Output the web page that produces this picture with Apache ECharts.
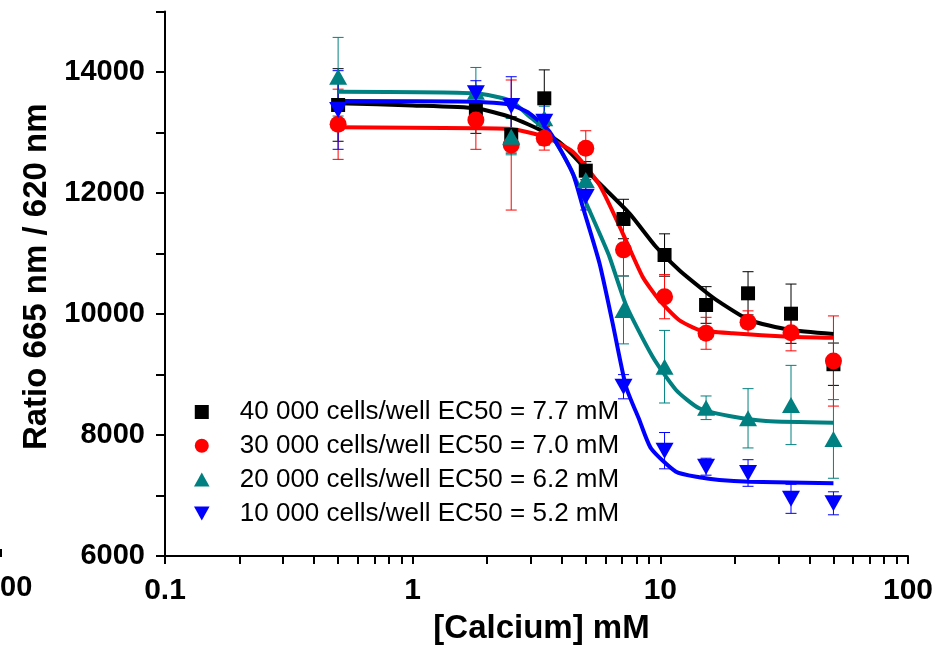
<!DOCTYPE html>
<html>
<head>
<meta charset="utf-8">
<script src="https://cdn.jsdelivr.net/npm/echarts@6/dist/echarts.min.js"></script>
<style>
html,body{margin:0;padding:0;background:#fff;}
#chart{width:949px;height:646px;}
</style>
</head>
<body>
<div id="chart"></div>
<script>
// ---- data ----
const calcium = [0.5, 1.8, 2.5, 3.4, 5, 7.1, 10.4, 15.3, 22.6, 33.7, 50];

const seriesNames = [
  '40 000 cells/well EC50 = 7.7 mM',
  '30 000 cells/well EC50 = 7.0 mM',
  '20 000 cells/well EC50 = 6.2 mM',
  '10 000 cells/well EC50 = 5.2 mM'
];

const cells40k = [13455, 13372, 12960, 13565, 12369, 11570, 10975, 10149, 10342, 10005, 9170];
const cells40kErr = [600, 386, 300, 470, 150, 326, 350, 303, 357, 490, 350];
const cells30k = [13136, 13207, 12793, 12904, 12739, 11060, 10286, 9681, 9865, 9691, 9223];
const cells30kErr = [580, 485, 1075, 195, 290, 430, 365, 264, 187, 300, 745];
const cells20k = [13922, 13675, 12931, 13234, 12215, 10066, 9129, 8450, 8276, 8496, 7935];
const cells20kErr = [650, 400, 300, 200, 200, 560, 600, 195, 490, 655, 650];
const cells10k = [13372, 13648, 13438, 13179, 11939, 8798, 7741, 7476, 7372, 6945, 6871];
const cells10kErr = [650, 208, 484, 386, 220, 200, 300, 140, 220, 240, 190];

// fitted curves
const fit40kX = [0.5, 1.0, 1.8, 2.5, 3.4, 4.04, 5.5, 7.5, 9.6, 11.9, 15.3, 17.3, 22.9, 33.1, 50];
const fit40kY = [13483, 13447, 13400, 13251, 13008, 12793, 12215, 11664, 11112, 10727, 10360, 10200, 9900, 9740, 9670];
const fit30kX = [0.5, 1.8, 2.5, 3.4, 4.43, 5.68, 7.05, 8.48, 9.9, 11.9, 14.35, 19.6, 33.1, 50];
const fit30kY = [13086, 13069, 13058, 12931, 12683, 12132, 11334, 10617, 10231, 9901, 9736, 9681, 9625, 9608];
const fit20kX = [0.5, 1.8, 2.5, 2.96, 3.57, 4.3, 5.02, 5.68, 6.23, 7.27, 9.31, 11.57, 14.35, 18.97, 26.7, 50];
const fit20kY = [13675, 13648, 13520, 13263, 12987, 12435, 11830, 11334, 10947, 10149, 9294, 8744, 8441, 8314, 8231, 8203];
const fit10kX = [0.5, 1.8, 2.5, 2.96, 3.57, 4.43, 4.86, 5.68, 6.42, 7.27, 8.23, 9.17, 11.57, 14.35, 17.3, 22.9, 50];
const fit10kY = [13521, 13510, 13455, 13317, 13013, 12325, 11774, 10838, 9846, 8798, 8248, 7780, 7393, 7301, 7256, 7228, 7202];

const xTickLabels = [0.1, 1, 10, 100];
const xTicks = [0.1,0.2,0.3,0.4,0.5,0.6,0.7,0.8,0.9,1,2,3,4,5,6,7,8,9,10,20,30,40,50,60,70,80,90,100];
const yTickLabels = [6000, 8000, 10000, 12000, 14000];
const yTicks = [6000, 7000, 8000, 9000, 10000, 11000, 12000, 13000, 14000, 15000];

// ---- styling ----
const colors = ['#000000', '#ff0000', '#008080', '#0000ff'];
const symbols = [
  'path://M0,0H10V10H0Z',
  'path://M5,0A5,5,0,1,1,5,10A5,5,0,1,1,5,0Z',
  'path://M5,0L10,9L0,9Z',
  'path://M0,0L10,0L5,9Z'
];
const symbolSizes = [[14,14],[17,17],[18,16],[18,16]];
const pts = [cells40k, cells30k, cells20k, cells10k];
const errs = [cells40kErr, cells30kErr, cells20kErr, cells10kErr];
const fitsX = [fit40kX, fit30kX, fit20kX, fit10kX];
const fitsY = [fit40kY, fit30kY, fit20kY, fit10kY];

const FONT = '"Liberation Sans", Arial, sans-serif';
const Y_MIN = 6000, Y_MAX = 15000, X_MIN = 0.1, X_MAX = 100;

const series = [];
for (let i = 0; i < 4; i++) {
  const c = colors[i];
  series.push({
    type: 'custom',
    name: seriesNames[i] + ' err',
    z: 2,
    silent: true,
    data: calcium.map((x, k) => [x, pts[i][k], errs[i][k]]),
    encode: { x: 0, y: 1 },
    renderItem: function (params, api) {
      const x = api.value(0), y = api.value(1), e = api.value(2);
      const top = api.coord([x, y + e]);
      const bot = api.coord([x, y - e]);
      const hw = 5.5;
      return {
        type: 'group',
        children: [
          { type: 'line', shape: { x1: top[0], y1: top[1], x2: bot[0], y2: bot[1] }, style: { stroke: c, lineWidth: 1 } },
          { type: 'line', shape: { x1: top[0] - hw, y1: top[1], x2: top[0] + hw, y2: top[1] }, style: { stroke: c, lineWidth: 1 } },
          { type: 'line', shape: { x1: bot[0] - hw, y1: bot[1], x2: bot[0] + hw, y2: bot[1] }, style: { stroke: c, lineWidth: 1 } }
        ]
      };
    }
  });
  series.push({
    type: 'line',
    name: seriesNames[i] + ' fit',
    z: 3,
    showSymbol: false,
    symbol: 'none',
    smooth: 0.2,
    lineStyle: { color: c, width: 4 },
    data: fitsX[i].map((x, k) => [x, fitsY[i][k]])
  });
  series.push({
    type: 'scatter',
    name: seriesNames[i],
    z: 4,
    symbol: symbols[i],
    symbolSize: symbolSizes[i],
    symbolKeepAspect: false,
    itemStyle: { color: c, opacity: 1 },
    data: calcium.map((x, k) => [x, pts[i][k]])
  });
}

const chart = echarts.init(document.getElementById('chart'), null, { renderer: 'canvas' });
chart.setOption({
  animation: false,
  backgroundColor: '#ffffff',
  grid: { left: 165, right: 41, top: 11.5, bottom: 90, containLabel: false, outerBoundsMode: 'none' },
  legend: {
    data: seriesNames.map((n, i) => ({ name: n, icon: symbols[i], itemStyle: { color: colors[i] } })),
    orient: 'vertical',
    left: 189,
    top: 394,
    itemWidth: 66,
    itemHeight: 14,
    itemGap: 7.8,
    symbolKeepAspect: true,
    selectedMode: false,
    textStyle: { fontFamily: FONT, fontSize: 26, color: '#000' }
  },
  xAxis: {
    type: 'log', logBase: 10, min: X_MIN, max: X_MAX,
    name: '[Calcium] mM', nameLocation: 'middle', nameGap: 56,
    nameTextStyle: { fontFamily: FONT, fontSize: 33, fontWeight: 'bold', color: '#000', padding: [0, 0, 0, 10] },
    axisLine: { show: true, onZero: false, lineStyle: { color: '#000', width: 2 } },
    axisTick: { show: true, inside: false, length: 8, customValues: xTicks, lineStyle: { color: '#000', width: 2 } },
    axisLabel: { show: true, customValues: xTickLabels, margin: 20, fontFamily: FONT, fontSize: 30, fontWeight: 'bold', color: '#000',
      formatter: function (v) { return String(+(+v).toPrecision(6)); } },
    splitLine: { show: false }, minorTick: { show: false }
  },
  yAxis: {
    type: 'value', min: Y_MIN, max: Y_MAX, interval: 2000,
    name: 'Ratio 665 nm / 620 nm', nameLocation: 'middle', nameGap: 104, nameRotate: 90,
    nameTextStyle: { fontFamily: FONT, fontSize: 33, fontWeight: 'bold', color: '#000', padding: [0, 0, 0, 14] },
    axisLine: { show: true, onZero: false, lineStyle: { color: '#000', width: 2 } },
    axisTick: { show: true, inside: false, length: 9, customValues: yTicks, lineStyle: { color: '#000', width: 2 } },
    axisLabel: { show: true, customValues: yTickLabels, margin: 20, fontFamily: FONT, fontSize: 29, fontWeight: 'bold', color: '#000',
      formatter: function (v) { return String(Math.round(v)); } },
    splitLine: { show: false }
  },
  graphic: [
    { type: 'text', left: 0, top: 573, style: { text: '00', fontFamily: FONT, fontSize: 29, fontWeight: 'bold', fill: '#000' } },
    { type: 'rect', left: 0, top: 549, shape: { width: 2, height: 8 }, style: { fill: '#000' } }
  ],
  series: series
});
</script>
</body>
</html>
